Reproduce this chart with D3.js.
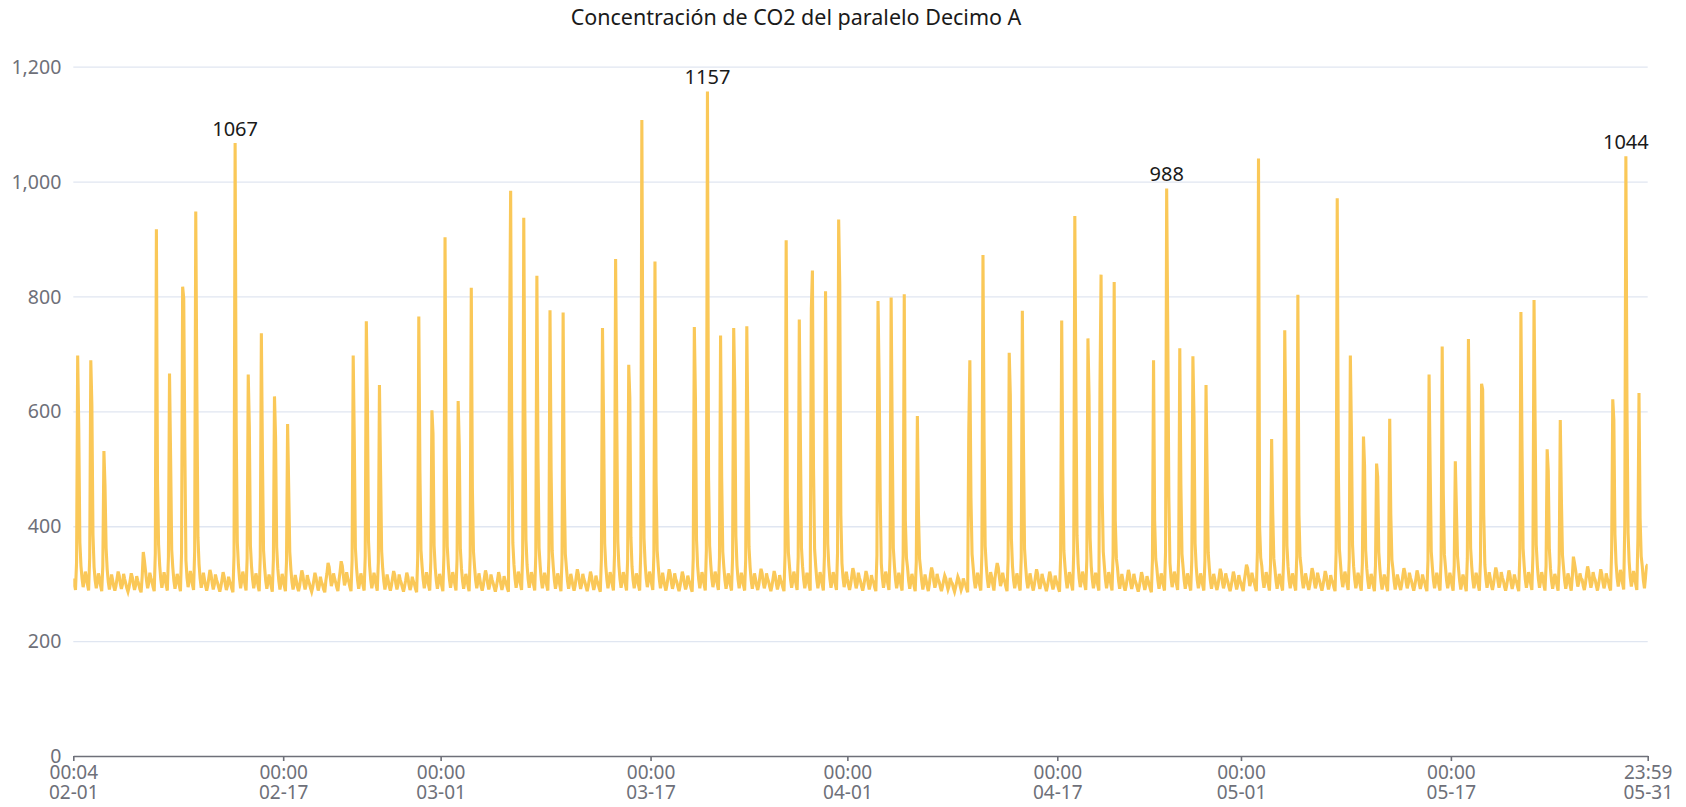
<!DOCTYPE html>
<html>
<head>
<meta charset="utf-8">
<script src="https://cdn.jsdelivr.net/npm/d3@7"></script>
<style>
  html, body { margin: 0; padding: 0; background: #ffffff; }
  svg { display: block; font-family: "Noto Sans", "Open Sans", sans-serif; }
</style>
</head>
<body>
<svg id="chart" width="1686" height="807"></svg>
<script>
// ---- data -------------------------------------------------------------
const chartTitle = "Concentración de CO2 del paralelo Decimo A";
const firstReading = "2023-02-01 00:04";
const readingStepHours = 2;

// CO2 in ppm, one row per day, readings every two hours from 00:04 to 22:04
const co2ppm = [
  309,297,289,338,697,570,372,331,309,294,305,321,   // 02-01
  311,298,288,345,689,610,385,329,306,292,303,318,
  309,296,287,331,531,470,362,325,303,290,301,316,
  306,295,288,296,309,321,314,300,291,299,317,308,
  300,292,286,294,306,318,311,298,289,297,313,305,
  298,290,285,312,355,341,323,305,292,301,319,310,   // 02-06
  303,294,287,352,917,480,368,332,308,293,304,320,
  310,297,288,346,666,520,359,328,305,291,302,317,
  308,296,287,353,817,797,540,341,310,294,305,322,
  312,298,289,356,948,641,381,334,309,293,303,319,
  307,296,288,297,311,324,316,301,290,298,316,307,
  301,293,286,295,307,320,312,299,289,296,312,304,
  299,291,285,349,1067,567,372,333,309,292,304,321,  // 02-13
  311,298,288,344,664,573,366,330,307,292,303,318,
  309,296,287,347,736,520,358,328,305,291,302,316,
  307,295,286,342,626,554,364,327,304,290,301,317,
  308,296,287,339,578,467,355,325,303,290,300,315,   // 02-17
  305,294,287,296,310,323,315,300,290,298,315,306,
  300,292,286,294,306,319,311,298,288,296,312,303,
  298,290,285,305,318,336,329,312,296,303,318,309,   // 02-20
  302,293,287,306,321,339,331,314,297,304,320,310,
  303,294,287,341,697,548,362,329,306,291,302,318,
  309,297,288,347,757,617,374,331,307,292,303,319,
  310,297,288,338,646,500,357,326,304,290,301,316,
  306,295,288,297,310,322,315,300,290,298,316,307,
  301,293,286,295,306,319,312,298,289,296,312,304,
  299,291,285,345,765,499,358,330,307,292,303,320,   // 02-27
  310,297,288,340,602,561,366,328,305,291,302,317,
  308,296,287,351,903,520,365,332,308,293,304,320,   // 03-01
  311,298,288,343,618,540,360,327,305,291,302,317,
  308,296,287,348,815,467,356,329,306,292,303,318,
  306,295,288,297,311,323,315,300,290,298,316,307,
  301,293,286,295,307,320,312,299,289,297,313,305,
  300,292,286,716,984,560,371,334,309,293,304,321,   // 03-06
  312,299,289,352,937,600,377,333,308,293,304,320,
  311,298,288,349,836,520,362,331,307,292,303,319,
  310,297,288,346,776,500,357,329,306,291,302,318,
  309,297,287,344,772,470,352,328,305,291,302,317,
  307,296,288,297,312,325,316,301,291,299,317,308,
  302,294,287,296,308,321,313,299,289,297,314,305,
  300,292,286,343,745,582,370,331,307,292,304,320,   // 03-13
  311,298,288,350,865,600,373,332,308,293,304,320,
  311,298,288,342,681,623,381,330,306,292,303,318,
  310,297,288,355,1107,617,379,335,309,294,305,321,
  312,299,289,350,861,480,358,330,307,292,303,319,   // 03-17
  307,296,288,298,312,325,317,302,291,299,318,308,
  303,294,287,296,308,321,313,299,290,297,314,306,
  301,292,286,344,747,623,377,331,307,292,304,320,   // 03-20
  311,298,288,358,1157,486,366,334,309,294,305,321,
  312,299,289,345,732,486,356,329,306,291,302,318,
  309,297,288,346,745,641,383,332,307,292,303,319,
  310,297,288,343,748,560,364,329,306,291,302,318,
  308,296,289,298,313,326,318,302,292,300,318,309,
  303,294,287,296,309,322,314,300,290,298,315,306,
  301,293,287,352,898,450,355,331,307,293,304,321,   // 03-27
  312,299,289,347,760,554,362,330,307,292,303,319,
  310,297,288,778,845,500,360,331,307,292,304,320,
  311,298,288,348,809,585,369,332,308,293,304,320,
  311,298,289,355,934,822,420,336,310,294,305,321,   // 03-31
  308,297,289,299,313,327,319,303,292,300,319,310,   // 04-01
  304,295,288,297,309,322,314,300,290,298,315,306,
  302,293,287,349,792,660,450,335,309,293,305,321,   // 04-03
  312,299,289,348,798,554,362,331,307,292,303,319,
  310,297,288,349,804,410,345,328,305,291,302,317,
  308,296,287,338,592,420,343,325,304,290,301,316,
  306,295,287,300,316,328,320,304,293,300,317,308,   // 04-07
  303,294,287,295,305,314,309,298,290,296,310,303,
  300,292,286,294,303,312,307,297,289,295,309,302,
  299,291,285,567,689,450,352,329,306,292,303,319,   // 04-10
  310,297,288,352,872,554,366,332,308,293,304,320,
  311,298,288,310,324,336,328,311,296,303,319,309,
  303,294,287,343,702,629,378,330,306,292,303,318,
  309,297,288,345,775,548,361,330,306,292,303,318,
  307,296,288,298,312,325,317,301,291,299,317,308,
  302,294,287,296,308,321,313,299,290,297,314,305,
  300,292,286,345,758,496,357,330,307,292,304,320,   // 04-17
  311,298,288,354,940,632,384,335,309,294,305,321,
  312,299,289,343,727,629,379,331,307,292,303,319,
  310,297,288,641,838,460,356,331,307,292,304,320,
  311,298,288,349,825,410,344,328,305,291,302,317,
  306,295,288,297,311,324,316,301,291,299,317,307,
  301,293,286,295,307,320,312,299,289,297,313,305,
  299,291,285,341,689,410,343,327,305,291,302,318,   // 04-24
  309,297,288,357,988,740,450,336,310,294,305,321,
  312,299,289,345,710,473,352,329,306,291,302,318,
  309,297,288,342,696,589,370,330,306,292,303,318,
  309,297,288,340,646,486,354,327,305,291,302,317,
  308,296,289,298,312,326,318,302,292,300,318,309,
  303,294,287,296,308,321,313,300,290,298,315,306,
  301,293,287,305,318,333,327,311,296,303,319,309,   // 05-01
  303,294,287,356,1040,399,345,331,307,293,304,320,
  311,298,288,333,552,424,344,326,305,291,302,317,
  309,297,288,345,741,564,366,330,306,292,303,318,
  310,297,288,348,803,420,346,329,306,292,303,318,
  308,297,289,299,313,327,319,303,292,300,319,310,
  304,295,288,297,309,322,314,300,290,298,315,306,
  302,293,287,355,971,502,360,334,309,294,305,321,   // 05-08
  312,299,289,343,697,561,367,330,307,292,303,319,
  310,297,288,335,556,505,358,327,305,291,302,317,
  309,296,287,332,509,486,355,326,304,290,301,316,
  308,296,287,334,587,420,342,325,304,290,301,316,
  307,296,289,299,314,327,319,303,292,300,319,310,
  304,295,288,297,309,323,315,300,291,299,316,307,
  302,293,287,341,664,499,356,329,306,292,303,319,   // 05-15
  310,297,288,343,713,461,351,329,306,292,303,319,
  310,297,288,331,513,430,348,325,304,290,301,316,   // 05-17
  308,296,287,344,726,536,362,330,307,292,303,319,
  310,297,288,339,648,638,420,333,308,293,304,320,
  309,297,289,300,315,328,320,304,293,301,320,311,
  305,295,288,297,310,323,315,301,291,299,316,307,
  303,294,287,348,773,536,361,331,307,293,304,320,   // 05-22
  312,299,289,350,794,580,368,332,308,293,304,320,
  311,298,288,331,534,496,360,327,305,291,302,317,
  309,297,288,336,585,450,350,327,305,291,302,318,
  310,297,288,312,347,336,324,309,295,302,318,309,
  307,296,289,300,316,330,321,305,293,301,320,311,
  306,296,288,298,311,325,317,302,292,300,318,309,
  304,294,288,360,621,585,386,336,310,295,307,324,   // 05-29
  314,300,290,402,1044,610,388,338,311,295,306,322,
  313,299,289,378,632,414,348,330,306,292,312,330,   // 05-31
  334
];

const yTicks = [0, 200, 400, 600, 800, 1000, 1200];
const xTickTimes = [
  "2023-02-01 00:04", "2023-02-17 00:00", "2023-03-01 00:00",
  "2023-03-17 00:00", "2023-04-01 00:00", "2023-04-17 00:00",
  "2023-05-01 00:00", "2023-05-17 00:00", "2023-05-31 23:59"
];

// ---- layout -----------------------------------------------------------
const plot = { left: 73.3, right: 1647.7, top: 66.7, bottom: 756 };
const FONT = '"Noto Sans", "Open Sans", sans-serif';
const AXIS_GREY = "#6E7079";
const GRID = "#E0E6F1";
const LINE = "#FAC858";

const parse = d3.timeParse("%Y-%m-%d %H:%M");
const t0 = parse(firstReading);
const stepMs = readingStepHours * 3600 * 1000;
const readings = co2ppm.map((v, i) => ({ t: new Date(+t0 + i * stepMs), v }));
const tickDates = xTickTimes.map(parse);
const tEnd = tickDates[tickDates.length - 1];

const x = d3.scaleTime()
  .domain([tickDates[0], tEnd])
  .range([plot.left, plot.right]);
const y = d3.scaleLinear()
  .domain([yTicks[0], yTicks[yTicks.length - 1]])
  .range([plot.bottom, plot.top]);

const svg = d3.select("#chart");

svg.append("defs").append("clipPath").attr("id", "plot-clip")
  .append("rect")
  .attr("x", plot.left).attr("y", 0)
  .attr("width", plot.right - plot.left).attr("height", plot.bottom + 2);

// title
svg.append("text")
  .attr("x", 796).attr("y", 16)
  .attr("text-anchor", "middle")
  .attr("dominant-baseline", "central")
  .attr("font-family", FONT)
  .attr("font-size", 21.5)
  .attr("fill", "#1a1a1a")
  .text(chartTitle);

// horizontal grid lines
const grid = svg.append("g")
  .attr("transform", `translate(${plot.left},0)`)
  .call(d3.axisLeft(y)
    .tickValues(yTicks.filter(v => v > 0))
    .tickSize(-(plot.right - plot.left))
    .tickFormat(""));
grid.select(".domain").remove();
grid.selectAll(".tick line").attr("stroke", GRID).attr("stroke-width", 1.3);

// y axis labels
const gy = svg.append("g")
  .attr("transform", `translate(${plot.left},0)`)
  .call(d3.axisLeft(y)
    .tickValues(yTicks)
    .tickSize(0)
    .tickPadding(12)
    .tickFormat(d3.format(",")));
gy.select(".domain").remove();
gy.attr("font-family", FONT).attr("font-size", 19.5);
gy.selectAll(".tick text").attr("fill", AXIS_GREY).attr("dy", "0.34em");

// CO2 line
const line = d3.line().x(d => x(d.t)).y(d => y(d.v));
svg.append("path")
  .datum(readings)
  .attr("clip-path", "url(#plot-clip)")
  .attr("fill", "none")
  .attr("stroke", LINE)
  .attr("stroke-width", 3.1)
  .attr("d", line);

// x axis: time on the first line, date on the second
const fmtTime = d3.timeFormat("%H:%M");
const fmtDay = d3.timeFormat("%m-%d");
const gx = svg.append("g")
  .attr("transform", `translate(0,${plot.bottom})`)
  .call(d3.axisBottom(x)
    .tickValues(tickDates)
    .tickSizeInner(5)
    .tickSizeOuter(0)
    .tickFormat(fmtTime));
gx.attr("font-family", FONT).attr("font-size", 19);
gx.select(".domain").attr("stroke", AXIS_GREY).attr("stroke-width", 1.6);
gx.selectAll(".tick line").attr("stroke", AXIS_GREY).attr("stroke-width", 1.6);
gx.selectAll(".tick text").each(function (d) {
  const t = d3.select(this).text(null).attr("y", null).attr("dy", null).attr("fill", AXIS_GREY);
  t.append("tspan").attr("x", 0).attr("y", 17).attr("dy", "0.34em").text(fmtTime(d));
  t.append("tspan").attr("x", 0).attr("y", 37).attr("dy", "0.34em").text(fmtDay(d));
});

// monthly maximum labels
const inRange = readings.filter(d => d.t <= tEnd);
const monthMax = Array.from(d3.group(inRange, d => d.t.getMonth()).values())
  .map(arr => d3.greatest(arr, d => d.v));
svg.append("g").selectAll("text")
  .data(monthMax)
  .join("text")
  .attr("x", d => x(d.t))
  .attr("y", d => y(d.v) - 7)
  .attr("text-anchor", "middle")
  .attr("font-family", FONT)
  .attr("font-size", 20)
  .attr("fill", "#1a1a1a")
  .text(d => d.v);
</script>
</body>
</html>
